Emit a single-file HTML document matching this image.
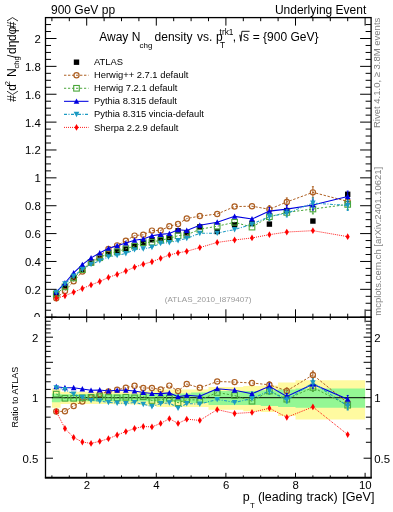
<!DOCTYPE html><html><head><meta charset="utf-8"><style>html,body{margin:0;padding:0;background:#fff;width:393px;height:512px;overflow:hidden;position:relative}svg text{font-family:"Liberation Sans",sans-serif}</style></head><body><svg width="393" height="512" viewBox="0 0 393 512" style="position:absolute;left:0;top:0;will-change:transform">
<defs><clipPath id="cu"><rect x="45.5" y="17.6" width="325.4" height="299.7"/></clipPath><clipPath id="cl"><rect x="45.5" y="317.3" width="325.4" height="160.5"/></clipPath></defs>
<rect width="393" height="512" fill="#fff"/>
<g clip-path="url(#cu)">
<rect x="53.55" y="292.34" width="5.4" height="5.4" fill="#000"/>
<rect x="62.25" y="283.98" width="5.4" height="5.4" fill="#000"/>
<rect x="70.95" y="275.06" width="5.4" height="5.4" fill="#000"/>
<rect x="79.65" y="266.84" width="5.4" height="5.4" fill="#000"/>
<rect x="88.35" y="260.01" width="5.4" height="5.4" fill="#000"/>
<rect x="97.05" y="255.69" width="5.4" height="5.4" fill="#000"/>
<rect x="105.75" y="250.82" width="5.4" height="5.4" fill="#000"/>
<rect x="114.45" y="248.87" width="5.4" height="5.4" fill="#000"/>
<rect x="123.15" y="246.36" width="5.4" height="5.4" fill="#000"/>
<rect x="131.85" y="243.29" width="5.4" height="5.4" fill="#000"/>
<rect x="140.55" y="240.78" width="5.4" height="5.4" fill="#000"/>
<rect x="149.25" y="237.02" width="5.4" height="5.4" fill="#000"/>
<rect x="157.95" y="235.49" width="5.4" height="5.4" fill="#000"/>
<rect x="166.65" y="235.35" width="5.4" height="5.4" fill="#000"/>
<rect x="175.35" y="228.10" width="5.4" height="5.4" fill="#000"/>
<rect x="184.05" y="230.19" width="5.4" height="5.4" fill="#000"/>
<rect x="197.10" y="224.20" width="5.4" height="5.4" fill="#000"/>
<rect x="214.50" y="228.80" width="5.4" height="5.4" fill="#000"/>
<rect x="231.90" y="221.97" width="5.4" height="5.4" fill="#000"/>
<rect x="249.30" y="220.72" width="5.4" height="5.4" fill="#000"/>
<rect x="266.70" y="221.41" width="5.4" height="5.4" fill="#000"/>
<rect x="284.10" y="207.90" width="5.4" height="5.4" fill="#000"/>
<rect x="310.20" y="218.35" width="5.4" height="5.4" fill="#000"/>
<rect x="345.00" y="191.59" width="5.4" height="5.4" fill="#000"/>
<path d="M56.25 298.28 L64.95 291.09 L73.65 281.34 L82.35 271.62 L91.05 262.46 L99.75 255.92 L108.45 248.83 L117.15 245.35 L125.85 240.79 L134.55 235.59 L143.25 234.82 L151.95 230.62 L160.65 230.41 L169.35 226.28 L178.05 224.02 L186.75 218.57 L199.80 216.06 L217.20 214.02 L234.60 206.57 L252.00 206.22 L269.40 209.29 L286.80 201.96 L312.90 192.35 L347.70 201.40" fill="none" stroke="#ad5f22" stroke-width="1.0" stroke-dasharray="2.4 1.6"/>
<circle cx="56.25" cy="298.28" r="2.6" fill="none" stroke="#ad5f22" stroke-width="1.2"/>
<circle cx="64.95" cy="291.09" r="2.6" fill="none" stroke="#ad5f22" stroke-width="1.2"/>
<circle cx="73.65" cy="281.34" r="2.6" fill="none" stroke="#ad5f22" stroke-width="1.2"/>
<circle cx="82.35" cy="271.62" r="2.6" fill="none" stroke="#ad5f22" stroke-width="1.2"/>
<circle cx="91.05" cy="262.46" r="2.6" fill="none" stroke="#ad5f22" stroke-width="1.2"/>
<circle cx="99.75" cy="255.92" r="2.6" fill="none" stroke="#ad5f22" stroke-width="1.2"/>
<circle cx="108.45" cy="248.83" r="2.6" fill="none" stroke="#ad5f22" stroke-width="1.2"/>
<circle cx="117.15" cy="245.35" r="2.6" fill="none" stroke="#ad5f22" stroke-width="1.2"/>
<circle cx="125.85" cy="240.79" r="2.6" fill="none" stroke="#ad5f22" stroke-width="1.2"/>
<circle cx="134.55" cy="235.59" r="2.6" fill="none" stroke="#ad5f22" stroke-width="1.2"/>
<circle cx="143.25" cy="234.82" r="2.6" fill="none" stroke="#ad5f22" stroke-width="1.2"/>
<circle cx="151.95" cy="230.62" r="2.6" fill="none" stroke="#ad5f22" stroke-width="1.2"/>
<circle cx="160.65" cy="230.41" r="2.6" fill="none" stroke="#ad5f22" stroke-width="1.2"/>
<circle cx="169.35" cy="226.28" r="2.6" fill="none" stroke="#ad5f22" stroke-width="1.2"/>
<circle cx="178.05" cy="224.02" r="2.6" fill="none" stroke="#ad5f22" stroke-width="1.2"/>
<circle cx="186.75" cy="218.57" r="2.6" fill="none" stroke="#ad5f22" stroke-width="1.2"/>
<circle cx="199.80" cy="216.06" r="2.6" fill="none" stroke="#ad5f22" stroke-width="1.2"/>
<circle cx="217.20" cy="214.02" r="2.6" fill="none" stroke="#ad5f22" stroke-width="1.2"/>
<circle cx="234.60" cy="206.57" r="2.6" fill="none" stroke="#ad5f22" stroke-width="1.2"/>
<circle cx="252.00" cy="206.22" r="2.6" fill="none" stroke="#ad5f22" stroke-width="1.2"/>
<path d="M269.40 205.51V213.07M268.40 205.51h2M268.40 213.07h2" stroke="#ad5f22" stroke-width="1" fill="none"/>
<circle cx="269.40" cy="209.29" r="2.6" fill="none" stroke="#ad5f22" stroke-width="1.2"/>
<path d="M286.80 197.93V205.99M285.80 197.93h2M285.80 205.99h2" stroke="#ad5f22" stroke-width="1" fill="none"/>
<circle cx="286.80" cy="201.96" r="2.6" fill="none" stroke="#ad5f22" stroke-width="1.2"/>
<path d="M312.90 186.73V197.97M311.90 186.73h2M311.90 197.97h2" stroke="#ad5f22" stroke-width="1" fill="none"/>
<circle cx="312.90" cy="192.35" r="2.6" fill="none" stroke="#ad5f22" stroke-width="1.2"/>
<path d="M347.70 196.19V206.61M346.70 196.19h2M346.70 206.61h2" stroke="#ad5f22" stroke-width="1" fill="none"/>
<circle cx="347.70" cy="201.40" r="2.6" fill="none" stroke="#ad5f22" stroke-width="1.2"/>
<path d="M56.25 294.11 L64.95 286.89 L73.65 278.03 L82.35 269.65 L91.05 262.46 L99.75 257.65 L108.45 253.37 L117.15 251.72 L125.85 248.74 L134.55 246.16 L143.25 242.63 L151.95 242.17 L160.65 240.07 L169.35 238.50 L178.05 235.71 L186.75 234.90 L199.80 229.25 L217.20 226.24 L234.60 222.31 L252.00 227.10 L269.40 216.69 L286.80 212.41 L312.90 209.01 L347.70 204.41" fill="none" stroke="#4aa63a" stroke-width="1.0" stroke-dasharray="2.2 1.8"/>
<rect x="53.45" y="291.31" width="5.6" height="5.6" fill="none" stroke="#4aa63a" stroke-width="1.1"/>
<rect x="62.15" y="284.09" width="5.6" height="5.6" fill="none" stroke="#4aa63a" stroke-width="1.1"/>
<rect x="70.85" y="275.23" width="5.6" height="5.6" fill="none" stroke="#4aa63a" stroke-width="1.1"/>
<rect x="79.55" y="266.85" width="5.6" height="5.6" fill="none" stroke="#4aa63a" stroke-width="1.1"/>
<rect x="88.25" y="259.66" width="5.6" height="5.6" fill="none" stroke="#4aa63a" stroke-width="1.1"/>
<rect x="96.95" y="254.85" width="5.6" height="5.6" fill="none" stroke="#4aa63a" stroke-width="1.1"/>
<rect x="105.65" y="250.57" width="5.6" height="5.6" fill="none" stroke="#4aa63a" stroke-width="1.1"/>
<rect x="114.35" y="248.92" width="5.6" height="5.6" fill="none" stroke="#4aa63a" stroke-width="1.1"/>
<rect x="123.05" y="245.94" width="5.6" height="5.6" fill="none" stroke="#4aa63a" stroke-width="1.1"/>
<rect x="131.75" y="243.36" width="5.6" height="5.6" fill="none" stroke="#4aa63a" stroke-width="1.1"/>
<rect x="140.45" y="239.83" width="5.6" height="5.6" fill="none" stroke="#4aa63a" stroke-width="1.1"/>
<rect x="149.15" y="239.37" width="5.6" height="5.6" fill="none" stroke="#4aa63a" stroke-width="1.1"/>
<rect x="157.85" y="237.27" width="5.6" height="5.6" fill="none" stroke="#4aa63a" stroke-width="1.1"/>
<rect x="166.55" y="235.70" width="5.6" height="5.6" fill="none" stroke="#4aa63a" stroke-width="1.1"/>
<rect x="175.25" y="232.91" width="5.6" height="5.6" fill="none" stroke="#4aa63a" stroke-width="1.1"/>
<rect x="183.95" y="232.10" width="5.6" height="5.6" fill="none" stroke="#4aa63a" stroke-width="1.1"/>
<rect x="197.00" y="226.45" width="5.6" height="5.6" fill="none" stroke="#4aa63a" stroke-width="1.1"/>
<rect x="214.40" y="223.44" width="5.6" height="5.6" fill="none" stroke="#4aa63a" stroke-width="1.1"/>
<rect x="231.80" y="219.51" width="5.6" height="5.6" fill="none" stroke="#4aa63a" stroke-width="1.1"/>
<rect x="249.20" y="224.30" width="5.6" height="5.6" fill="none" stroke="#4aa63a" stroke-width="1.1"/>
<path d="M269.40 213.17V220.21M268.40 213.17h2M268.40 220.21h2" stroke="#4aa63a" stroke-width="1" fill="none"/>
<rect x="266.60" y="213.89" width="5.6" height="5.6" fill="none" stroke="#4aa63a" stroke-width="1.1"/>
<path d="M286.80 208.75V216.08M285.80 208.75h2M285.80 216.08h2" stroke="#4aa63a" stroke-width="1" fill="none"/>
<rect x="284.00" y="209.61" width="5.6" height="5.6" fill="none" stroke="#4aa63a" stroke-width="1.1"/>
<path d="M312.90 204.14V213.88M311.90 204.14h2M311.90 213.88h2" stroke="#4aa63a" stroke-width="1" fill="none"/>
<rect x="310.10" y="206.21" width="5.6" height="5.6" fill="none" stroke="#4aa63a" stroke-width="1.1"/>
<path d="M347.70 199.34V209.49M346.70 199.34h2M346.70 209.49h2" stroke="#4aa63a" stroke-width="1" fill="none"/>
<rect x="344.90" y="201.61" width="5.6" height="5.6" fill="none" stroke="#4aa63a" stroke-width="1.1"/>
<path d="M56.25 292.07 L64.95 282.98 L73.65 272.98 L82.35 264.55 L91.05 257.89 L99.75 252.97 L108.45 248.36 L117.15 245.76 L125.85 243.03 L134.55 240.22 L143.25 238.96 L151.95 235.81 L160.65 234.39 L169.35 233.58 L178.05 229.81 L186.75 230.44 L199.80 225.34 L217.20 222.19 L234.60 216.37 L252.00 219.02 L269.40 211.13 L286.80 209.12 L312.90 204.97 L347.70 196.53" fill="none" stroke="#0000e0" stroke-width="1.05" />
<path d="M56.25 289.17L59.05 294.57H53.45Z" fill="#0000e0"/>
<path d="M64.95 280.08L67.75 285.48H62.15Z" fill="#0000e0"/>
<path d="M73.65 270.08L76.45 275.48H70.85Z" fill="#0000e0"/>
<path d="M82.35 261.65L85.15 267.05H79.55Z" fill="#0000e0"/>
<path d="M91.05 254.99L93.85 260.39H88.25Z" fill="#0000e0"/>
<path d="M99.75 250.07L102.55 255.47H96.95Z" fill="#0000e0"/>
<path d="M108.45 245.46L111.25 250.86H105.65Z" fill="#0000e0"/>
<path d="M117.15 242.86L119.95 248.26H114.35Z" fill="#0000e0"/>
<path d="M125.85 240.13L128.65 245.53H123.05Z" fill="#0000e0"/>
<path d="M134.55 237.32L137.35 242.72H131.75Z" fill="#0000e0"/>
<path d="M143.25 236.06L146.05 241.46H140.45Z" fill="#0000e0"/>
<path d="M151.95 232.91L154.75 238.31H149.15Z" fill="#0000e0"/>
<path d="M160.65 231.49L163.45 236.89H157.85Z" fill="#0000e0"/>
<path d="M169.35 230.68L172.15 236.08H166.55Z" fill="#0000e0"/>
<path d="M178.05 226.91L180.85 232.31H175.25Z" fill="#0000e0"/>
<path d="M186.75 227.54L189.55 232.94H183.95Z" fill="#0000e0"/>
<path d="M199.80 222.44L202.60 227.84H197.00Z" fill="#0000e0"/>
<path d="M217.20 219.29L220.00 224.69H214.40Z" fill="#0000e0"/>
<path d="M234.60 213.47L237.40 218.87H231.80Z" fill="#0000e0"/>
<path d="M252.00 216.12L254.80 221.52H249.20Z" fill="#0000e0"/>
<path d="M269.40 207.42V214.84M268.40 207.42h2M268.40 214.84h2" stroke="#0000e0" stroke-width="1" fill="none"/>
<path d="M269.40 208.23L272.20 213.63H266.60Z" fill="#0000e0"/>
<path d="M286.80 205.34V212.90M285.80 205.34h2M285.80 212.90h2" stroke="#0000e0" stroke-width="1" fill="none"/>
<path d="M286.80 206.22L289.60 211.62H284.00Z" fill="#0000e0"/>
<path d="M312.90 199.92V210.02M311.90 199.92h2M311.90 210.02h2" stroke="#0000e0" stroke-width="1" fill="none"/>
<path d="M312.90 202.07L315.70 207.47H310.10Z" fill="#0000e0"/>
<path d="M347.70 191.10V201.96M346.70 191.10h2M346.70 201.96h2" stroke="#0000e0" stroke-width="1" fill="none"/>
<path d="M347.70 193.63L350.50 199.03H344.90Z" fill="#0000e0"/>
<path d="M56.25 292.35 L64.95 283.72 L73.65 276.10 L82.35 269.32 L91.05 264.37 L99.75 260.64 L108.45 256.86 L117.15 255.43 L125.85 253.51 L134.55 249.72 L143.25 248.85 L151.95 247.23 L160.65 243.35 L169.35 242.54 L178.05 240.59 L186.75 238.40 L199.80 233.28 L217.20 233.15 L234.60 229.52 L252.00 224.27 L269.40 216.57 L286.80 213.37 L312.90 203.02 L347.70 205.44" fill="none" stroke="#1b9ac2" stroke-width="1.05" stroke-dasharray="3 1.5 1 1.5"/>
<path d="M56.25 295.25L59.05 289.85H53.45Z" fill="#1b9ac2"/>
<path d="M64.95 286.62L67.75 281.22H62.15Z" fill="#1b9ac2"/>
<path d="M73.65 279.00L76.45 273.60H70.85Z" fill="#1b9ac2"/>
<path d="M82.35 272.22L85.15 266.82H79.55Z" fill="#1b9ac2"/>
<path d="M91.05 267.27L93.85 261.87H88.25Z" fill="#1b9ac2"/>
<path d="M99.75 263.54L102.55 258.14H96.95Z" fill="#1b9ac2"/>
<path d="M108.45 259.76L111.25 254.36H105.65Z" fill="#1b9ac2"/>
<path d="M117.15 258.33L119.95 252.93H114.35Z" fill="#1b9ac2"/>
<path d="M125.85 256.41L128.65 251.01H123.05Z" fill="#1b9ac2"/>
<path d="M134.55 252.62L137.35 247.22H131.75Z" fill="#1b9ac2"/>
<path d="M143.25 251.75L146.05 246.35H140.45Z" fill="#1b9ac2"/>
<path d="M151.95 250.13L154.75 244.73H149.15Z" fill="#1b9ac2"/>
<path d="M160.65 246.25L163.45 240.85H157.85Z" fill="#1b9ac2"/>
<path d="M169.35 245.44L172.15 240.04H166.55Z" fill="#1b9ac2"/>
<path d="M178.05 243.49L180.85 238.09H175.25Z" fill="#1b9ac2"/>
<path d="M186.75 241.30L189.55 235.90H183.95Z" fill="#1b9ac2"/>
<path d="M199.80 236.18L202.60 230.78H197.00Z" fill="#1b9ac2"/>
<path d="M217.20 236.05L220.00 230.65H214.40Z" fill="#1b9ac2"/>
<path d="M234.60 232.42L237.40 227.02H231.80Z" fill="#1b9ac2"/>
<path d="M252.00 227.17L254.80 221.77H249.20Z" fill="#1b9ac2"/>
<path d="M269.40 213.05V220.09M268.40 213.05h2M268.40 220.09h2" stroke="#1b9ac2" stroke-width="1" fill="none"/>
<path d="M269.40 219.47L272.20 214.07H266.60Z" fill="#1b9ac2"/>
<path d="M286.80 209.74V217.00M285.80 209.74h2M285.80 217.00h2" stroke="#1b9ac2" stroke-width="1" fill="none"/>
<path d="M286.80 216.27L289.60 210.87H284.00Z" fill="#1b9ac2"/>
<path d="M312.90 197.88V208.16M311.90 197.88h2M311.90 208.16h2" stroke="#1b9ac2" stroke-width="1" fill="none"/>
<path d="M312.90 205.92L315.70 200.52H310.10Z" fill="#1b9ac2"/>
<path d="M347.70 200.41V210.47M346.70 200.41h2M346.70 210.47h2" stroke="#1b9ac2" stroke-width="1" fill="none"/>
<path d="M347.70 208.34L350.50 202.94H344.90Z" fill="#1b9ac2"/>
<path d="M56.25 298.28 L64.95 295.76 L73.65 292.20 L82.35 288.51 L91.05 284.92 L99.75 281.51 L108.45 277.39 L117.15 274.39 L125.85 270.99 L134.55 267.16 L143.25 264.20 L151.95 261.75 L160.65 258.34 L169.35 254.97 L178.05 252.84 L186.75 251.30 L199.80 247.58 L217.20 242.42 L234.60 239.99 L252.00 237.95 L269.40 234.66 L286.80 232.04 L312.90 230.67 L347.70 236.66" fill="none" stroke="#ff0000" stroke-width="1.0" stroke-dasharray="0.9 1.1"/>
<path d="M56.25 294.88L58.25 298.28L56.25 301.68L54.25 298.28Z" fill="#ff0000"/>
<path d="M64.95 292.36L66.95 295.76L64.95 299.16L62.95 295.76Z" fill="#ff0000"/>
<path d="M73.65 288.80L75.65 292.20L73.65 295.60L71.65 292.20Z" fill="#ff0000"/>
<path d="M82.35 285.11L84.35 288.51L82.35 291.91L80.35 288.51Z" fill="#ff0000"/>
<path d="M91.05 281.52L93.05 284.92L91.05 288.32L89.05 284.92Z" fill="#ff0000"/>
<path d="M99.75 278.11L101.75 281.51L99.75 284.91L97.75 281.51Z" fill="#ff0000"/>
<path d="M108.45 273.99L110.45 277.39L108.45 280.79L106.45 277.39Z" fill="#ff0000"/>
<path d="M117.15 270.99L119.15 274.39L117.15 277.79L115.15 274.39Z" fill="#ff0000"/>
<path d="M125.85 267.59L127.85 270.99L125.85 274.39L123.85 270.99Z" fill="#ff0000"/>
<path d="M134.55 263.76L136.55 267.16L134.55 270.56L132.55 267.16Z" fill="#ff0000"/>
<path d="M143.25 260.80L145.25 264.20L143.25 267.60L141.25 264.20Z" fill="#ff0000"/>
<path d="M151.95 258.35L153.95 261.75L151.95 265.15L149.95 261.75Z" fill="#ff0000"/>
<path d="M160.65 254.94L162.65 258.34L160.65 261.74L158.65 258.34Z" fill="#ff0000"/>
<path d="M169.35 251.57L171.35 254.97L169.35 258.37L167.35 254.97Z" fill="#ff0000"/>
<path d="M178.05 249.44L180.05 252.84L178.05 256.24L176.05 252.84Z" fill="#ff0000"/>
<path d="M186.75 247.90L188.75 251.30L186.75 254.70L184.75 251.30Z" fill="#ff0000"/>
<path d="M199.80 244.18L201.80 247.58L199.80 250.98L197.80 247.58Z" fill="#ff0000"/>
<path d="M217.20 239.02L219.20 242.42L217.20 245.82L215.20 242.42Z" fill="#ff0000"/>
<path d="M234.60 236.59L236.60 239.99L234.60 243.39L232.60 239.99Z" fill="#ff0000"/>
<path d="M252.00 234.55L254.00 237.95L252.00 241.35L250.00 237.95Z" fill="#ff0000"/>
<path d="M269.40 231.26L271.40 234.66L269.40 238.06L267.40 234.66Z" fill="#ff0000"/>
<path d="M286.80 228.64L288.80 232.04L286.80 235.44L284.80 232.04Z" fill="#ff0000"/>
<path d="M312.90 227.27L314.90 230.67L312.90 234.07L310.90 230.67Z" fill="#ff0000"/>
<path d="M347.70 233.26L349.70 236.66L347.70 240.06L345.70 236.66Z" fill="#ff0000"/>
</g>
<g clip-path="url(#cl)">
<path d="M51.90 388.59L60.60 388.59L60.60 391.79L69.30 391.79L69.30 391.79L78.00 391.79L78.00 391.79L86.70 391.79L86.70 391.79L95.40 391.79L95.40 391.79L104.10 391.79L104.10 391.74L112.80 391.74L112.80 391.64L121.50 391.64L121.50 391.54L130.20 391.54L130.20 391.44L138.90 391.44L138.90 390.98L147.60 390.98L147.60 390.18L156.30 390.18L156.30 389.38L165.00 389.38L165.00 389.38L173.70 389.38L173.70 389.38L182.40 389.38L182.40 389.38L191.10 389.38L191.10 389.38L208.50 389.38L208.50 387.03L225.90 387.03L225.90 387.03L243.30 387.03L243.30 385.88L260.70 385.88L260.70 385.50L278.10 385.50L278.10 382.52L295.50 382.52L295.50 380.34L330.30 380.34L330.30 380.34L365.10 380.34L365.10 419.39L330.30 419.39L330.30 419.39L295.50 419.39L295.50 416.09L278.10 416.09L278.10 411.89L260.70 411.89L260.70 411.37L243.30 411.37L243.30 409.86L225.90 409.86L225.90 409.86L208.50 409.86L208.50 406.90L191.10 406.90L191.10 406.90L182.40 406.90L182.40 406.90L173.70 406.90L173.70 406.90L165.00 406.90L165.00 406.90L156.30 406.90L156.30 405.93L147.60 405.93L147.60 404.98L138.90 404.98L138.90 404.45L130.20 404.45L130.20 404.33L121.50 404.33L121.50 404.21L112.80 404.21L112.80 404.09L104.10 404.09L104.10 404.03L95.40 404.03L95.40 404.03L86.70 404.03L86.70 404.03L78.00 404.03L78.00 404.03L69.30 404.03L69.30 404.03L60.60 404.03L60.60 407.87L51.90 407.87Z" fill="#fffaa0"/>
<path d="M51.90 393.44L60.60 393.44L60.60 394.28L69.30 394.28L69.30 394.28L78.00 394.28L78.00 394.28L86.70 394.28L86.70 394.28L95.40 394.28L95.40 394.28L104.10 394.28L104.10 394.28L112.80 394.28L112.80 394.28L121.50 394.28L121.50 394.28L130.20 394.28L130.20 394.28L138.90 394.28L138.90 394.19L147.60 394.19L147.60 394.02L156.30 394.02L156.30 393.86L165.00 393.86L165.00 393.72L173.70 393.72L173.70 393.58L182.40 393.58L182.40 393.44L191.10 393.44L191.10 392.61L208.50 392.61L208.50 390.98L225.90 390.98L225.90 390.98L243.30 390.98L243.30 390.98L260.70 390.98L260.70 390.18L278.10 390.18L278.10 389.38L295.50 389.38L295.50 388.59L330.30 388.59L330.30 388.59L365.10 388.59L365.10 407.87L330.30 407.87L330.30 407.87L295.50 407.87L295.50 406.90L278.10 406.90L278.10 405.93L260.70 405.93L260.70 404.98L243.30 404.98L243.30 404.98L225.90 404.98L225.90 404.98L208.50 404.98L208.50 403.10L191.10 403.10L191.10 402.18L182.40 402.18L182.40 402.02L173.70 402.02L173.70 401.87L165.00 401.87L165.00 401.72L156.30 401.72L156.30 401.54L147.60 401.54L147.60 401.35L138.90 401.35L138.90 401.26L130.20 401.26L130.20 401.26L121.50 401.26L121.50 401.26L112.80 401.26L112.80 401.26L104.10 401.26L104.10 401.26L95.40 401.26L95.40 401.26L86.70 401.26L86.70 401.26L78.00 401.26L78.00 401.26L69.30 401.26L69.30 401.26L60.60 401.26L60.60 402.18L51.90 402.18Z" fill="#94f794"/>
<path d="M51.90 397.7H365.10" stroke="#000" stroke-width="1.0"/>
<path d="M56.25 411.50 L64.95 411.30 L73.65 406.00 L82.35 401.60 L91.05 397.30 L99.75 394.10 L108.45 391.50 L117.15 389.80 L125.85 387.70 L134.55 385.80 L143.25 388.00 L151.95 388.00 L160.65 389.50 L169.35 385.60 L178.05 391.10 L186.75 384.00 L199.80 387.80 L217.20 381.50 L234.60 382.10 L252.00 383.00 L269.40 384.80 L286.80 390.90 L312.90 374.90 L347.70 402.90" fill="none" stroke="#ad5f22" stroke-width="1.0" stroke-dasharray="2.4 1.6"/>
<circle cx="56.25" cy="411.50" r="2.6" fill="none" stroke="#ad5f22" stroke-width="1.2"/>
<circle cx="64.95" cy="411.30" r="2.6" fill="none" stroke="#ad5f22" stroke-width="1.2"/>
<circle cx="73.65" cy="406.00" r="2.6" fill="none" stroke="#ad5f22" stroke-width="1.2"/>
<circle cx="82.35" cy="401.60" r="2.6" fill="none" stroke="#ad5f22" stroke-width="1.2"/>
<circle cx="91.05" cy="397.30" r="2.6" fill="none" stroke="#ad5f22" stroke-width="1.2"/>
<circle cx="99.75" cy="394.10" r="2.6" fill="none" stroke="#ad5f22" stroke-width="1.2"/>
<circle cx="108.45" cy="391.50" r="2.6" fill="none" stroke="#ad5f22" stroke-width="1.2"/>
<circle cx="117.15" cy="389.80" r="2.6" fill="none" stroke="#ad5f22" stroke-width="1.2"/>
<circle cx="125.85" cy="387.70" r="2.6" fill="none" stroke="#ad5f22" stroke-width="1.2"/>
<circle cx="134.55" cy="385.80" r="2.6" fill="none" stroke="#ad5f22" stroke-width="1.2"/>
<circle cx="143.25" cy="388.00" r="2.6" fill="none" stroke="#ad5f22" stroke-width="1.2"/>
<circle cx="151.95" cy="388.00" r="2.6" fill="none" stroke="#ad5f22" stroke-width="1.2"/>
<circle cx="160.65" cy="389.50" r="2.6" fill="none" stroke="#ad5f22" stroke-width="1.2"/>
<circle cx="169.35" cy="385.60" r="2.6" fill="none" stroke="#ad5f22" stroke-width="1.2"/>
<circle cx="178.05" cy="391.10" r="2.6" fill="none" stroke="#ad5f22" stroke-width="1.2"/>
<circle cx="186.75" cy="384.00" r="2.6" fill="none" stroke="#ad5f22" stroke-width="1.2"/>
<circle cx="199.80" cy="387.80" r="2.6" fill="none" stroke="#ad5f22" stroke-width="1.2"/>
<circle cx="217.20" cy="381.50" r="2.6" fill="none" stroke="#ad5f22" stroke-width="1.2"/>
<circle cx="234.60" cy="382.10" r="2.6" fill="none" stroke="#ad5f22" stroke-width="1.2"/>
<circle cx="252.00" cy="383.00" r="2.6" fill="none" stroke="#ad5f22" stroke-width="1.2"/>
<path d="M269.40 381.80V387.91M268.40 381.80h2M268.40 387.91h2" stroke="#ad5f22" stroke-width="1" fill="none"/>
<circle cx="269.40" cy="384.80" r="2.6" fill="none" stroke="#ad5f22" stroke-width="1.2"/>
<path d="M286.80 387.90V394.01M285.80 387.90h2M285.80 394.01h2" stroke="#ad5f22" stroke-width="1" fill="none"/>
<circle cx="286.80" cy="390.90" r="2.6" fill="none" stroke="#ad5f22" stroke-width="1.2"/>
<path d="M312.90 371.06V378.92M311.90 371.06h2M311.90 378.92h2" stroke="#ad5f22" stroke-width="1" fill="none"/>
<circle cx="312.90" cy="374.90" r="2.6" fill="none" stroke="#ad5f22" stroke-width="1.2"/>
<path d="M347.70 399.06V406.92M346.70 399.06h2M346.70 406.92h2" stroke="#ad5f22" stroke-width="1" fill="none"/>
<circle cx="347.70" cy="402.90" r="2.6" fill="none" stroke="#ad5f22" stroke-width="1.2"/>
<path d="M56.25 394.10 L64.95 398.30 L73.65 398.30 L82.35 397.90 L91.05 397.30 L99.75 396.60 L108.45 397.50 L117.15 397.90 L125.85 397.30 L134.55 397.90 L143.25 396.70 L151.95 400.50 L160.65 399.80 L169.35 398.20 L178.05 402.80 L186.75 399.80 L199.80 400.00 L217.20 392.50 L234.60 395.50 L252.00 401.20 L269.40 391.00 L286.80 399.20 L312.90 387.40 L347.70 405.20" fill="none" stroke="#4aa63a" stroke-width="1.0" stroke-dasharray="2.2 1.8"/>
<rect x="53.45" y="391.30" width="5.6" height="5.6" fill="none" stroke="#4aa63a" stroke-width="1.1"/>
<rect x="62.15" y="395.50" width="5.6" height="5.6" fill="none" stroke="#4aa63a" stroke-width="1.1"/>
<rect x="70.85" y="395.50" width="5.6" height="5.6" fill="none" stroke="#4aa63a" stroke-width="1.1"/>
<rect x="79.55" y="395.10" width="5.6" height="5.6" fill="none" stroke="#4aa63a" stroke-width="1.1"/>
<rect x="88.25" y="394.50" width="5.6" height="5.6" fill="none" stroke="#4aa63a" stroke-width="1.1"/>
<rect x="96.95" y="393.80" width="5.6" height="5.6" fill="none" stroke="#4aa63a" stroke-width="1.1"/>
<rect x="105.65" y="394.70" width="5.6" height="5.6" fill="none" stroke="#4aa63a" stroke-width="1.1"/>
<rect x="114.35" y="395.10" width="5.6" height="5.6" fill="none" stroke="#4aa63a" stroke-width="1.1"/>
<rect x="123.05" y="394.50" width="5.6" height="5.6" fill="none" stroke="#4aa63a" stroke-width="1.1"/>
<rect x="131.75" y="395.10" width="5.6" height="5.6" fill="none" stroke="#4aa63a" stroke-width="1.1"/>
<rect x="140.45" y="393.90" width="5.6" height="5.6" fill="none" stroke="#4aa63a" stroke-width="1.1"/>
<rect x="149.15" y="397.70" width="5.6" height="5.6" fill="none" stroke="#4aa63a" stroke-width="1.1"/>
<rect x="157.85" y="397.00" width="5.6" height="5.6" fill="none" stroke="#4aa63a" stroke-width="1.1"/>
<rect x="166.55" y="395.40" width="5.6" height="5.6" fill="none" stroke="#4aa63a" stroke-width="1.1"/>
<rect x="175.25" y="400.00" width="5.6" height="5.6" fill="none" stroke="#4aa63a" stroke-width="1.1"/>
<rect x="183.95" y="397.00" width="5.6" height="5.6" fill="none" stroke="#4aa63a" stroke-width="1.1"/>
<rect x="197.00" y="397.20" width="5.6" height="5.6" fill="none" stroke="#4aa63a" stroke-width="1.1"/>
<rect x="214.40" y="389.70" width="5.6" height="5.6" fill="none" stroke="#4aa63a" stroke-width="1.1"/>
<rect x="231.80" y="392.70" width="5.6" height="5.6" fill="none" stroke="#4aa63a" stroke-width="1.1"/>
<rect x="249.20" y="398.40" width="5.6" height="5.6" fill="none" stroke="#4aa63a" stroke-width="1.1"/>
<path d="M269.40 388.00V394.11M268.40 388.00h2M268.40 394.11h2" stroke="#4aa63a" stroke-width="1" fill="none"/>
<rect x="266.60" y="388.20" width="5.6" height="5.6" fill="none" stroke="#4aa63a" stroke-width="1.1"/>
<path d="M286.80 396.20V402.31M285.80 396.20h2M285.80 402.31h2" stroke="#4aa63a" stroke-width="1" fill="none"/>
<rect x="284.00" y="396.40" width="5.6" height="5.6" fill="none" stroke="#4aa63a" stroke-width="1.1"/>
<path d="M312.90 383.56V391.42M311.90 383.56h2M311.90 391.42h2" stroke="#4aa63a" stroke-width="1" fill="none"/>
<rect x="310.10" y="384.60" width="5.6" height="5.6" fill="none" stroke="#4aa63a" stroke-width="1.1"/>
<path d="M347.70 401.36V409.22M346.70 401.36h2M346.70 409.22h2" stroke="#4aa63a" stroke-width="1" fill="none"/>
<rect x="344.90" y="402.40" width="5.6" height="5.6" fill="none" stroke="#4aa63a" stroke-width="1.1"/>
<path d="M56.25 386.70 L64.95 387.70 L73.65 387.70 L82.35 389.00 L91.05 390.30 L99.75 390.00 L108.45 390.90 L117.15 390.30 L125.85 390.30 L134.55 390.90 L143.25 392.50 L151.95 393.40 L160.65 393.60 L169.35 392.90 L178.05 396.70 L186.75 395.20 L199.80 396.20 L217.20 388.70 L234.60 390.20 L252.00 393.70 L269.40 386.30 L286.80 396.50 L312.90 384.20 L347.70 399.30" fill="none" stroke="#0000e0" stroke-width="1.05" />
<path d="M56.25 383.80L59.05 389.20H53.45Z" fill="#0000e0"/>
<path d="M64.95 384.80L67.75 390.20H62.15Z" fill="#0000e0"/>
<path d="M73.65 384.80L76.45 390.20H70.85Z" fill="#0000e0"/>
<path d="M82.35 386.10L85.15 391.50H79.55Z" fill="#0000e0"/>
<path d="M91.05 387.40L93.85 392.80H88.25Z" fill="#0000e0"/>
<path d="M99.75 387.10L102.55 392.50H96.95Z" fill="#0000e0"/>
<path d="M108.45 388.00L111.25 393.40H105.65Z" fill="#0000e0"/>
<path d="M117.15 387.40L119.95 392.80H114.35Z" fill="#0000e0"/>
<path d="M125.85 387.40L128.65 392.80H123.05Z" fill="#0000e0"/>
<path d="M134.55 388.00L137.35 393.40H131.75Z" fill="#0000e0"/>
<path d="M143.25 389.60L146.05 395.00H140.45Z" fill="#0000e0"/>
<path d="M151.95 390.50L154.75 395.90H149.15Z" fill="#0000e0"/>
<path d="M160.65 390.70L163.45 396.10H157.85Z" fill="#0000e0"/>
<path d="M169.35 390.00L172.15 395.40H166.55Z" fill="#0000e0"/>
<path d="M178.05 393.80L180.85 399.20H175.25Z" fill="#0000e0"/>
<path d="M186.75 392.30L189.55 397.70H183.95Z" fill="#0000e0"/>
<path d="M199.80 393.30L202.60 398.70H197.00Z" fill="#0000e0"/>
<path d="M217.20 385.80L220.00 391.20H214.40Z" fill="#0000e0"/>
<path d="M234.60 387.30L237.40 392.70H231.80Z" fill="#0000e0"/>
<path d="M252.00 390.80L254.80 396.20H249.20Z" fill="#0000e0"/>
<path d="M269.40 383.30V389.41M268.40 383.30h2M268.40 389.41h2" stroke="#0000e0" stroke-width="1" fill="none"/>
<path d="M269.40 383.40L272.20 388.80H266.60Z" fill="#0000e0"/>
<path d="M286.80 393.50V399.61M285.80 393.50h2M285.80 399.61h2" stroke="#0000e0" stroke-width="1" fill="none"/>
<path d="M286.80 393.60L289.60 399.00H284.00Z" fill="#0000e0"/>
<path d="M312.90 380.36V388.22M311.90 380.36h2M311.90 388.22h2" stroke="#0000e0" stroke-width="1" fill="none"/>
<path d="M312.90 381.30L315.70 386.70H310.10Z" fill="#0000e0"/>
<path d="M347.70 395.46V403.32M346.70 395.46h2M346.70 403.32h2" stroke="#0000e0" stroke-width="1" fill="none"/>
<path d="M347.70 396.40L350.50 401.80H344.90Z" fill="#0000e0"/>
<path d="M56.25 387.70 L64.95 389.60 L73.65 394.10 L82.35 397.30 L91.05 400.40 L99.75 401.10 L108.45 402.40 L117.15 403.00 L125.85 403.60 L134.55 402.40 L143.25 404.30 L151.95 406.60 L160.65 403.60 L169.35 402.80 L178.05 408.20 L186.75 403.60 L199.80 404.10 L217.20 399.40 L234.60 402.40 L252.00 398.50 L269.40 390.90 L286.80 400.00 L312.90 382.70 L347.70 406.00" fill="none" stroke="#1b9ac2" stroke-width="1.05" stroke-dasharray="3 1.5 1 1.5"/>
<path d="M56.25 390.60L59.05 385.20H53.45Z" fill="#1b9ac2"/>
<path d="M64.95 392.50L67.75 387.10H62.15Z" fill="#1b9ac2"/>
<path d="M73.65 397.00L76.45 391.60H70.85Z" fill="#1b9ac2"/>
<path d="M82.35 400.20L85.15 394.80H79.55Z" fill="#1b9ac2"/>
<path d="M91.05 403.30L93.85 397.90H88.25Z" fill="#1b9ac2"/>
<path d="M99.75 404.00L102.55 398.60H96.95Z" fill="#1b9ac2"/>
<path d="M108.45 405.30L111.25 399.90H105.65Z" fill="#1b9ac2"/>
<path d="M117.15 405.90L119.95 400.50H114.35Z" fill="#1b9ac2"/>
<path d="M125.85 406.50L128.65 401.10H123.05Z" fill="#1b9ac2"/>
<path d="M134.55 405.30L137.35 399.90H131.75Z" fill="#1b9ac2"/>
<path d="M143.25 407.20L146.05 401.80H140.45Z" fill="#1b9ac2"/>
<path d="M151.95 409.50L154.75 404.10H149.15Z" fill="#1b9ac2"/>
<path d="M160.65 406.50L163.45 401.10H157.85Z" fill="#1b9ac2"/>
<path d="M169.35 405.70L172.15 400.30H166.55Z" fill="#1b9ac2"/>
<path d="M178.05 411.10L180.85 405.70H175.25Z" fill="#1b9ac2"/>
<path d="M186.75 406.50L189.55 401.10H183.95Z" fill="#1b9ac2"/>
<path d="M199.80 407.00L202.60 401.60H197.00Z" fill="#1b9ac2"/>
<path d="M217.20 402.30L220.00 396.90H214.40Z" fill="#1b9ac2"/>
<path d="M234.60 405.30L237.40 399.90H231.80Z" fill="#1b9ac2"/>
<path d="M252.00 401.40L254.80 396.00H249.20Z" fill="#1b9ac2"/>
<path d="M269.40 387.90V394.01M268.40 387.90h2M268.40 394.01h2" stroke="#1b9ac2" stroke-width="1" fill="none"/>
<path d="M269.40 393.80L272.20 388.40H266.60Z" fill="#1b9ac2"/>
<path d="M286.80 397.00V403.11M285.80 397.00h2M285.80 403.11h2" stroke="#1b9ac2" stroke-width="1" fill="none"/>
<path d="M286.80 402.90L289.60 397.50H284.00Z" fill="#1b9ac2"/>
<path d="M312.90 378.86V386.72M311.90 378.86h2M311.90 386.72h2" stroke="#1b9ac2" stroke-width="1" fill="none"/>
<path d="M312.90 385.60L315.70 380.20H310.10Z" fill="#1b9ac2"/>
<path d="M347.70 402.16V410.02M346.70 402.16h2M346.70 410.02h2" stroke="#1b9ac2" stroke-width="1" fill="none"/>
<path d="M347.70 408.90L350.50 403.50H344.90Z" fill="#1b9ac2"/>
<path d="M56.25 411.50 L64.95 428.50 L73.65 437.50 L82.35 442.00 L91.05 443.40 L99.75 441.30 L108.45 438.70 L117.15 435.00 L125.85 431.60 L134.55 428.50 L143.25 426.50 L151.95 426.90 L160.65 423.40 L169.35 418.70 L178.05 423.40 L186.75 419.20 L199.80 420.40 L217.20 409.60 L234.60 413.50 L252.00 412.40 L269.40 408.20 L286.80 417.30 L312.90 406.90 L347.70 434.60" fill="none" stroke="#ff0000" stroke-width="1.0" stroke-dasharray="0.9 1.1"/>
<path d="M56.25 408.10L58.25 411.50L56.25 414.90L54.25 411.50Z" fill="#ff0000"/>
<path d="M64.95 425.10L66.95 428.50L64.95 431.90L62.95 428.50Z" fill="#ff0000"/>
<path d="M73.65 434.10L75.65 437.50L73.65 440.90L71.65 437.50Z" fill="#ff0000"/>
<path d="M82.35 438.60L84.35 442.00L82.35 445.40L80.35 442.00Z" fill="#ff0000"/>
<path d="M91.05 440.00L93.05 443.40L91.05 446.80L89.05 443.40Z" fill="#ff0000"/>
<path d="M99.75 437.90L101.75 441.30L99.75 444.70L97.75 441.30Z" fill="#ff0000"/>
<path d="M108.45 435.30L110.45 438.70L108.45 442.10L106.45 438.70Z" fill="#ff0000"/>
<path d="M117.15 431.60L119.15 435.00L117.15 438.40L115.15 435.00Z" fill="#ff0000"/>
<path d="M125.85 428.20L127.85 431.60L125.85 435.00L123.85 431.60Z" fill="#ff0000"/>
<path d="M134.55 425.10L136.55 428.50L134.55 431.90L132.55 428.50Z" fill="#ff0000"/>
<path d="M143.25 423.10L145.25 426.50L143.25 429.90L141.25 426.50Z" fill="#ff0000"/>
<path d="M151.95 423.50L153.95 426.90L151.95 430.30L149.95 426.90Z" fill="#ff0000"/>
<path d="M160.65 420.00L162.65 423.40L160.65 426.80L158.65 423.40Z" fill="#ff0000"/>
<path d="M169.35 415.30L171.35 418.70L169.35 422.10L167.35 418.70Z" fill="#ff0000"/>
<path d="M178.05 420.00L180.05 423.40L178.05 426.80L176.05 423.40Z" fill="#ff0000"/>
<path d="M186.75 415.80L188.75 419.20L186.75 422.60L184.75 419.20Z" fill="#ff0000"/>
<path d="M199.80 417.00L201.80 420.40L199.80 423.80L197.80 420.40Z" fill="#ff0000"/>
<path d="M217.20 406.20L219.20 409.60L217.20 413.00L215.20 409.60Z" fill="#ff0000"/>
<path d="M234.60 410.10L236.60 413.50L234.60 416.90L232.60 413.50Z" fill="#ff0000"/>
<path d="M252.00 409.00L254.00 412.40L252.00 415.80L250.00 412.40Z" fill="#ff0000"/>
<path d="M269.40 404.80L271.40 408.20L269.40 411.60L267.40 408.20Z" fill="#ff0000"/>
<path d="M286.80 413.90L288.80 417.30L286.80 420.70L284.80 417.30Z" fill="#ff0000"/>
<path d="M312.90 403.50L314.90 406.90L312.90 410.30L310.90 406.90Z" fill="#ff0000"/>
<path d="M347.70 431.20L349.70 434.60L347.70 438.00L345.70 434.60Z" fill="#ff0000"/>
</g>
<g stroke="#000" stroke-width="1.3" fill="none">
<rect x="45.5" y="17.6" width="325.6" height="299.7"/>
<rect x="45.5" y="317.3" width="325.6" height="160.5"/>
<path d="M44.9 477.6H371.70000000000005" stroke-width="1.8"/>
</g>
<path d="M45.5 317.20h11M371.1 317.20h-11M45.5 310.23h5.5M371.1 310.23h-5.5M45.5 303.26h5.5M371.1 303.26h-5.5M45.5 296.30h5.5M371.1 296.30h-5.5M45.5 289.33h11M371.1 289.33h-11M45.5 282.36h5.5M371.1 282.36h-5.5M45.5 275.39h5.5M371.1 275.39h-5.5M45.5 268.43h5.5M371.1 268.43h-5.5M45.5 261.46h11M371.1 261.46h-11M45.5 254.49h5.5M371.1 254.49h-5.5M45.5 247.52h5.5M371.1 247.52h-5.5M45.5 240.56h5.5M371.1 240.56h-5.5M45.5 233.59h11M371.1 233.59h-11M45.5 226.62h5.5M371.1 226.62h-5.5M45.5 219.65h5.5M371.1 219.65h-5.5M45.5 212.69h5.5M371.1 212.69h-5.5M45.5 205.72h11M371.1 205.72h-11M45.5 198.75h5.5M371.1 198.75h-5.5M45.5 191.78h5.5M371.1 191.78h-5.5M45.5 184.82h5.5M371.1 184.82h-5.5M45.5 177.85h11M371.1 177.85h-11M45.5 170.88h5.5M371.1 170.88h-5.5M45.5 163.91h5.5M371.1 163.91h-5.5M45.5 156.95h5.5M371.1 156.95h-5.5M45.5 149.98h11M371.1 149.98h-11M45.5 143.01h5.5M371.1 143.01h-5.5M45.5 136.04h5.5M371.1 136.04h-5.5M45.5 129.08h5.5M371.1 129.08h-5.5M45.5 122.11h11M371.1 122.11h-11M45.5 115.14h5.5M371.1 115.14h-5.5M45.5 108.18h5.5M371.1 108.18h-5.5M45.5 101.21h5.5M371.1 101.21h-5.5M45.5 94.24h11M371.1 94.24h-11M45.5 87.27h5.5M371.1 87.27h-5.5M45.5 80.30h5.5M371.1 80.30h-5.5M45.5 73.34h5.5M371.1 73.34h-5.5M45.5 66.37h11M371.1 66.37h-11M45.5 59.40h5.5M371.1 59.40h-5.5M45.5 52.44h5.5M371.1 52.44h-5.5M45.5 45.47h5.5M371.1 45.47h-5.5M45.5 38.50h11M371.1 38.50h-11M45.5 31.53h5.5M371.1 31.53h-5.5M45.5 24.56h5.5M371.1 24.56h-5.5M51.90 17.6v3.6M51.90 317.3v-3.6M51.90 317.3v2.4M51.90 477.8v-2.4M69.30 17.6v3.6M69.30 317.3v-3.6M69.30 317.3v2.4M69.30 477.8v-2.4M86.70 17.6v8M86.70 317.3v-8M86.70 317.3v5M86.70 477.8v-5M104.10 17.6v3.6M104.10 317.3v-3.6M104.10 317.3v2.4M104.10 477.8v-2.4M121.50 17.6v3.6M121.50 317.3v-3.6M121.50 317.3v2.4M121.50 477.8v-2.4M138.90 17.6v3.6M138.90 317.3v-3.6M138.90 317.3v2.4M138.90 477.8v-2.4M156.30 17.6v8M156.30 317.3v-8M156.30 317.3v5M156.30 477.8v-5M173.70 17.6v3.6M173.70 317.3v-3.6M173.70 317.3v2.4M173.70 477.8v-2.4M191.10 17.6v3.6M191.10 317.3v-3.6M191.10 317.3v2.4M191.10 477.8v-2.4M208.50 17.6v3.6M208.50 317.3v-3.6M208.50 317.3v2.4M208.50 477.8v-2.4M225.90 17.6v8M225.90 317.3v-8M225.90 317.3v5M225.90 477.8v-5M243.30 17.6v3.6M243.30 317.3v-3.6M243.30 317.3v2.4M243.30 477.8v-2.4M260.70 17.6v3.6M260.70 317.3v-3.6M260.70 317.3v2.4M260.70 477.8v-2.4M278.10 17.6v3.6M278.10 317.3v-3.6M278.10 317.3v2.4M278.10 477.8v-2.4M295.50 17.6v8M295.50 317.3v-8M295.50 317.3v5M295.50 477.8v-5M312.90 17.6v3.6M312.90 317.3v-3.6M312.90 317.3v2.4M312.90 477.8v-2.4M330.30 17.6v3.6M330.30 317.3v-3.6M330.30 317.3v2.4M330.30 477.8v-2.4M347.70 17.6v3.6M347.70 317.3v-3.6M347.70 317.3v2.4M347.70 477.8v-2.4M365.10 17.6v8M365.10 317.3v-8M365.10 317.3v5M365.10 477.8v-5M45.5 458.21h7.5M371.1 458.21h-7.5M45.5 442.29h5.2M371.1 442.29h-5.2M45.5 428.84h5.2M371.1 428.84h-5.2M45.5 417.18h5.2M371.1 417.18h-5.2M45.5 406.90h5.2M371.1 406.90h-5.2M45.5 397.70h7.5M371.1 397.70h-7.5M45.5 389.38h5.2M371.1 389.38h-5.2M45.5 381.78h5.2M371.1 381.78h-5.2M45.5 374.80h5.2M371.1 374.80h-5.2M45.5 368.33h5.2M371.1 368.33h-5.2M45.5 362.31h7.5M371.1 362.31h-7.5M45.5 356.67h5.2M371.1 356.67h-5.2M45.5 351.38h5.2M371.1 351.38h-5.2M45.5 346.39h5.2M371.1 346.39h-5.2M45.5 341.67h5.2M371.1 341.67h-5.2M45.5 337.19h7.5M371.1 337.19h-7.5M45.5 332.93h5.2M371.1 332.93h-5.2M45.5 328.87h5.2M371.1 328.87h-5.2M45.5 324.99h5.2M371.1 324.99h-5.2M45.5 321.28h5.2M371.1 321.28h-5.2" stroke="#000" stroke-width="1" fill="none"/>
<g font-family="Liberation Sans, sans-serif" font-size="11.4" fill="#000" text-anchor="end">
<text x="40.8" y="43.00">2</text>
<text x="40.8" y="70.87">1.8</text>
<text x="40.8" y="98.74">1.6</text>
<text x="40.8" y="126.61">1.4</text>
<text x="40.8" y="154.48">1.2</text>
<text x="40.8" y="182.35">1</text>
<text x="40.8" y="210.22">0.8</text>
<text x="40.8" y="238.09">0.6</text>
<text x="40.8" y="265.96">0.4</text>
<text x="40.8" y="293.83">0.2</text>
<text x="38.3" y="341.69">2</text>
<text x="38.3" y="402.20">1</text>
<text x="38.3" y="462.71">0.5</text>
</g>
<g font-family="Liberation Sans, sans-serif" font-size="12" fill="#000">
<text x="374.2" y="341.69" font-size="11.4">2</text>
<text x="374.2" y="402.20" font-size="11.4">1</text>
<text x="374.2" y="462.71" font-size="11.4">0.5</text>
<text x="86.90" y="489.4" text-anchor="middle" font-size="11.4">2</text>
<text x="156.50" y="489.4" text-anchor="middle" font-size="11.4">4</text>
<text x="226.10" y="489.4" text-anchor="middle" font-size="11.4">6</text>
<text x="295.70" y="489.4" text-anchor="middle" font-size="11.4">8</text>
<text x="365.30" y="489.4" text-anchor="middle" font-size="11.4">10</text>
<text x="51" y="13.7">900 GeV pp</text>
<text x="366.3" y="13.7" text-anchor="end">Underlying Event</text>
<text x="242.8" y="500.9" font-size="12.5">p</text><text x="250.1" y="507.8" font-size="7.8">T</text><text x="257.9" y="500.9" font-size="12.5">(leading</text><text x="306.4" y="500.9" font-size="12.5">track)</text><text x="342.2" y="500.9" font-size="12.6">[GeV]</text>
</g>
<svg x="0" y="0" width="393" height="317"><text x="40.5" y="321.50" font-family="Liberation Sans, sans-serif" font-size="12" text-anchor="end">0</text></svg>
<g font-family="Liberation Sans, sans-serif" fill="#000">
<text x="99.2" y="40.8" font-size="12">Away N</text>
<text x="139.6" y="48" font-size="8">chg</text>
<text x="154.6" y="40.8" font-size="12">density</text>
<text x="197.1" y="40.8" font-size="12">vs.</text>
<text x="216.1" y="40.8" font-size="12">p</text>
<text x="219.6" y="35.2" font-size="8.3">trk1</text>
<text x="220" y="48.1" font-size="8.3">T</text>
<text x="232.8" y="40.8" font-size="12">,</text>
<path d="M239.3 34.8L240.5 34.8L241.2 41.3L240.4 41.3Z" fill="#000"/><path d="M240.9 41.2L241.9 31.3H249.6" fill="none" stroke="#000" stroke-width="0.9"/>
<text x="242.9" y="41.2" font-size="12">s</text>
<text x="252.7" y="40.8" font-size="12">= {900 GeV}</text>
</g>
<text x="164.8" y="301.6" font-family="Liberation Sans, sans-serif" font-size="8.1" fill="#999">(ATLAS_2010_I879407)</text>
<text transform="translate(379.6,17.7) rotate(-90)" text-anchor="end" font-family="Liberation Sans, sans-serif" font-size="9.5" fill="#808080">Rivet 4.1.0, ≥ 3.8M events</text>
<text transform="translate(380.9,166.8) rotate(-90)" text-anchor="end" font-family="Liberation Sans, sans-serif" font-size="9.5" fill="#808080">mcplots.cern.ch [arXiv:2401.10621]</text>
<text transform="translate(17.8,427.5) rotate(-90)" font-family="Liberation Sans, sans-serif" font-size="9" fill="#000">Ratio to ATLAS</text>
<g transform="translate(16.2,101.5) rotate(-90)" fill="#000" font-family="Liberation Sans, sans-serif" font-size="12"><text x="-0.2" y="0" font-size="12">#</text><text x="10.8" y="0" font-size="12">d</text><text x="16.3" y="-6.2" font-size="7.5">2</text><text x="24.5" y="0" font-size="12">N</text><text x="33.0" y="2.4" font-size="7.5">chg</text><text x="43.6" y="0" font-size="12">/</text><text x="47.5" y="0" font-size="12">d</text><text x="54.3" y="0" font-size="12">η</text><text x="60.5" y="0" font-size="12">d</text><text x="67.0" y="0" font-size="12">φ</text><text x="73.3" y="0" font-size="12">#</text><path d="M10.3 -9.2L6.9 -3.7L10.3 1.7M80.5 -9.2L83.9 -3.7L80.5 1.8" fill="none" stroke="#000" stroke-width="0.8"/></g>
<rect x="73.80" y="59.50" width="5.4" height="5.4" fill="#000"/>
<text x="94" y="65.30" font-family="Liberation Sans, sans-serif" font-size="9.4" fill="#000">ATLAS</text>
<path d="M64 75.24H88.5" stroke="#ad5f22" stroke-width="1.0" stroke-dasharray="2.4 1.6"/>
<circle cx="76.50" cy="75.24" r="2.6" fill="none" stroke="#ad5f22" stroke-width="1.2"/>
<text x="94" y="78.34" font-family="Liberation Sans, sans-serif" font-size="9.4" fill="#000">Herwig++ 2.7.1 default</text>
<path d="M64 88.28H88.5" stroke="#4aa63a" stroke-width="1.0" stroke-dasharray="2.2 1.8"/>
<rect x="73.70" y="85.48" width="5.6" height="5.6" fill="none" stroke="#4aa63a" stroke-width="1.1"/>
<text x="94" y="91.38" font-family="Liberation Sans, sans-serif" font-size="9.4" fill="#000">Herwig 7.2.1 default</text>
<path d="M64 101.32H88.5" stroke="#0000e0" stroke-width="1.05" />
<path d="M76.50 98.42L79.30 103.82H73.70Z" fill="#0000e0"/>
<text x="94" y="104.42" font-family="Liberation Sans, sans-serif" font-size="9.4" fill="#000">Pythia 8.315 default</text>
<path d="M64 114.36H88.5" stroke="#1b9ac2" stroke-width="1.05" stroke-dasharray="3 1.5 1 1.5"/>
<path d="M76.50 117.26L79.30 111.86H73.70Z" fill="#1b9ac2"/>
<text x="94" y="117.46" font-family="Liberation Sans, sans-serif" font-size="9.4" fill="#000">Pythia 8.315 vincia-default</text>
<path d="M64 127.40H88.5" stroke="#ff0000" stroke-width="1.0" stroke-dasharray="0.9 1.1"/>
<path d="M76.50 124.00L78.50 127.40L76.50 130.80L74.50 127.40Z" fill="#ff0000"/>
<text x="94" y="130.50" font-family="Liberation Sans, sans-serif" font-size="9.4" fill="#000">Sherpa 2.2.9 default</text>
</svg></body></html>
